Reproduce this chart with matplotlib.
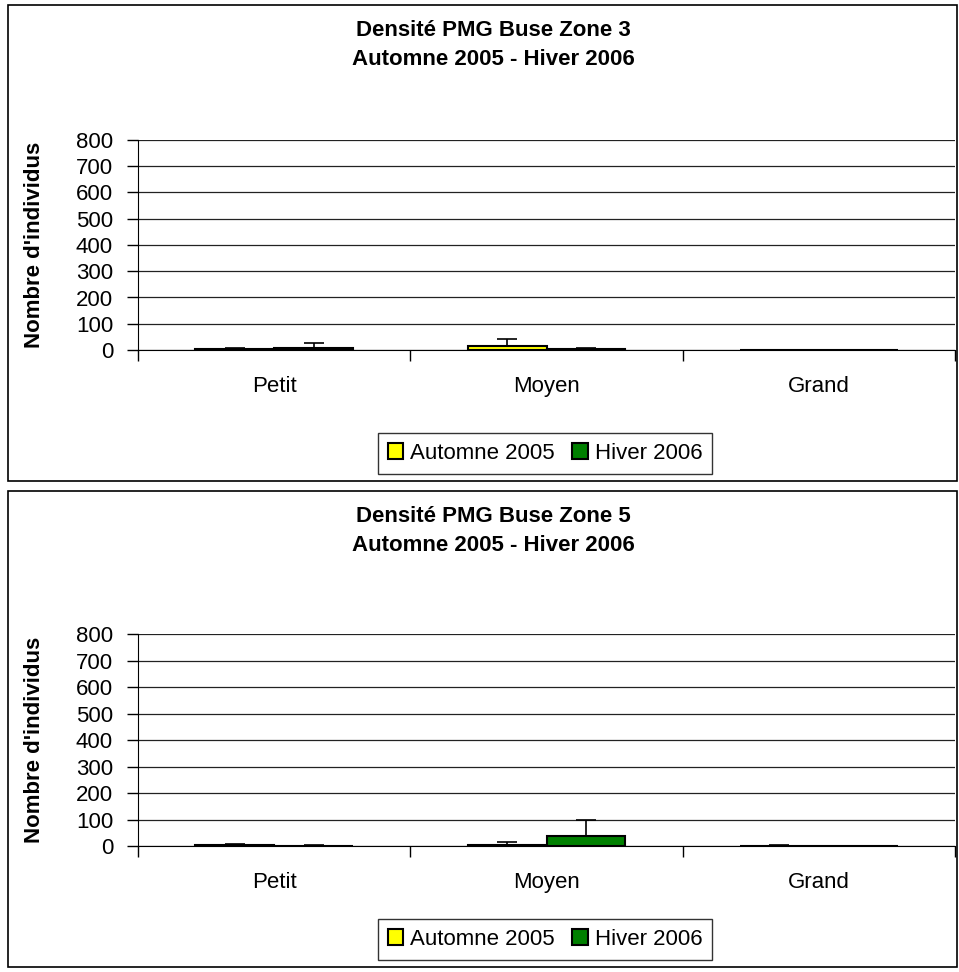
import matplotlib
matplotlib.use("Agg")
import matplotlib.pyplot as plt
import numpy as np
from matplotlib.patches import Rectangle

plt.rcParams['font.family'] = ['Liberation Sans', 'DejaVu Sans']

categories = ["Petit", "Moyen", "Grand"]
series = ["Automne 2005", "Hiver 2006"]
couleurs = ["#FFFF00", "#008000"]
yticks = [0, 100, 200, 300, 400, 500, 600, 700, 800]

# Zone 3
z3_automne = [5, 15, 0.5]
z3_automne_err = [2, 28, 1]
z3_hiver = [6, 4, 0.5]
z3_hiver_err = [22, 2, 1]

# Zone 5
z5_automne = [4, 3, 0.5]
z5_automne_err = [2, 12, 3]
z5_hiver = [0.5, 38, 0.5]
z5_hiver_err = [3, 60, 1]

zones = [
    ("Densité PMG Buse Zone 3\nAutomne 2005 - Hiver 2006",
     [z3_automne, z3_hiver], [z3_automne_err, z3_hiver_err]),
    ("Densité PMG Buse Zone 5\nAutomne 2005 - Hiver 2006",
     [z5_automne, z5_hiver], [z5_automne_err, z5_hiver_err]),
]

W, H = 959, 972
fig = plt.figure(figsize=(W / 100, H / 100), dpi=100)

panneaux = [(5, 481), (491, 967)]      # y haut, y bas (px) de chaque cadre
axes_px = [(140, 350), (634, 846)]     # y de 800 et de 0 pour chaque zone de tracé
x_gauche, x_droite = 138, 955

x = np.arange(len(categories))
largeur = 0.29
taille = 16

for (titre, valeurs, erreurs), (pt, pb), (at, ab) in zip(zones, panneaux, axes_px):
    # cadre du panneau
    fig.patches.append(Rectangle((8 / W, 1 - pb / H), (957 - 8) / W, (pb - pt) / H,
                                 transform=fig.transFigure, fill=False,
                                 edgecolor="black", linewidth=1.2))
    fig.text(493 / W, 1 - (pt + 40) / H, titre, ha="center", va="center",
             fontsize=taille, fontweight="bold", linespacing=1.5)

    ax = fig.add_axes([x_gauche / W, 1 - ab / H, (x_droite - x_gauche) / W, (ab - at) / H])
    for i, (v, e) in enumerate(zip(valeurs, erreurs)):
        pos = x + (i - 0.5) * largeur
        ax.bar(pos, v, largeur, color=couleurs[i], edgecolor="black", linewidth=1.5,
               label=series[i], zorder=3)
        ax.errorbar(pos, v, yerr=[np.zeros(len(e)), e], fmt="none", ecolor="black",
                    elinewidth=1.2, capsize=7, capthick=1.2, zorder=4)

    ax.set_xlim(-0.5, 2.5)
    ax.set_ylim(0, 800)
    ax.set_yticks(yticks)
    ax.set_yticklabels([str(t) for t in yticks], fontsize=taille)
    ax.yaxis.grid(True, color="#222222", linewidth=0.9, zorder=0)
    ax.set_xticks(x)
    ax.set_xticklabels(categories, fontsize=taille)
    ax.set_xticks([-0.5, 0.5, 1.5, 2.5], minor=True)
    ax.tick_params(axis="x", which="major", length=0, pad=19)
    ax.tick_params(axis="x", which="minor", length=8, direction="out", width=1)
    ax.tick_params(axis="y", length=8, direction="out", width=1, pad=10)
    ax.spines["top"].set_visible(False)
    ax.spines["right"].set_visible(False)
    ax.set_ylabel("Nombre d'individus", fontsize=taille, fontweight="bold")
    ax.yaxis.set_label_coords((45 - x_gauche) / (x_droite - x_gauche), 0.5)

    handles, labels = ax.get_legend_handles_labels()
    leg = fig.legend(handles, labels, loc="center", ncol=2,
                     bbox_to_anchor=(545 / W, 1 - (pb - 28) / H), fontsize=taille,
                     frameon=True, fancybox=False, edgecolor="black",
                     handlelength=0.7, handleheight=0.7, handletextpad=0.3,
                     columnspacing=0.8, borderpad=0.45)
    leg.get_frame().set_linewidth(1.0)

fig.savefig("out.png", dpi=100)
